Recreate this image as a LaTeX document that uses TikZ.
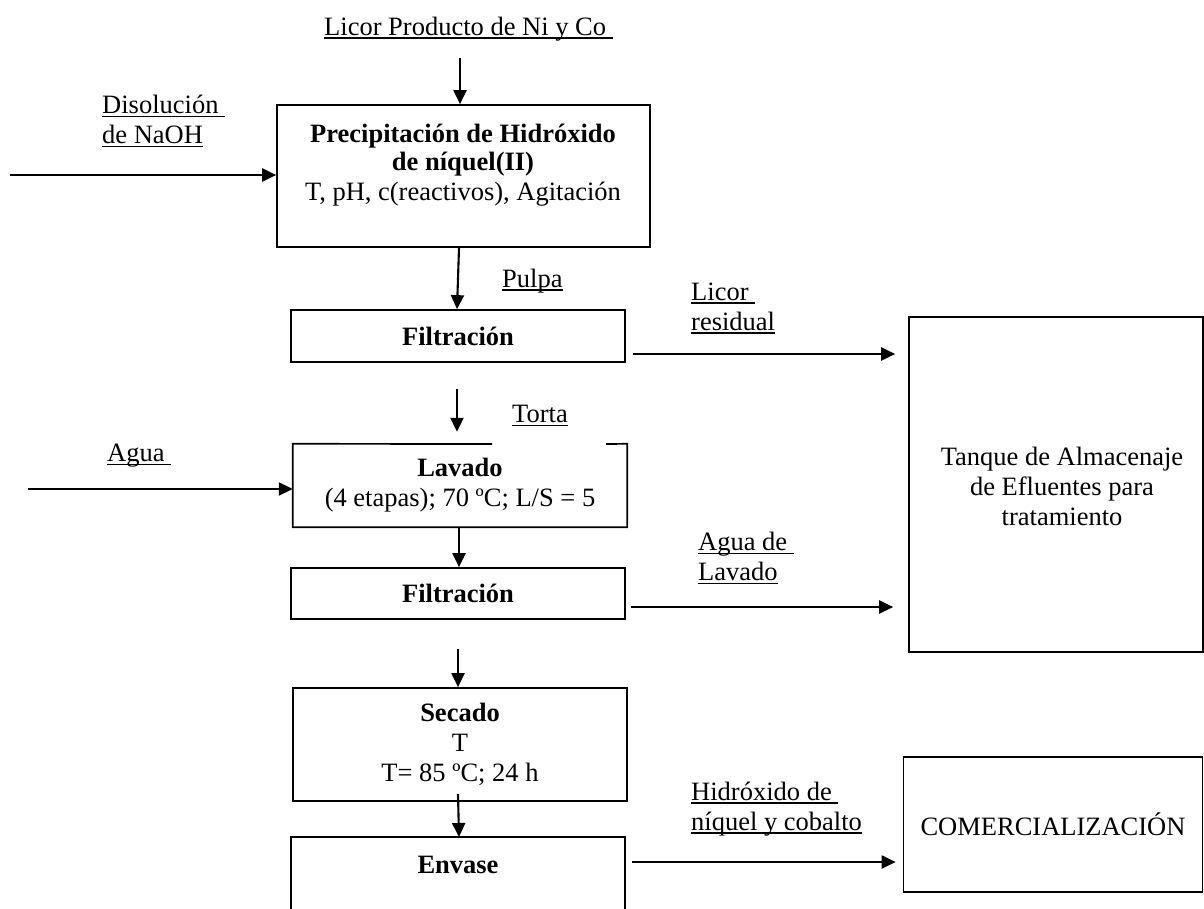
\documentclass[tikz,border=0pt]{standalone}
\usepackage{fontspec}
\setmainfont{Liberation Serif}
\usetikzlibrary{arrows.meta,calc}
\newcommand\myul[1]{{\setbox0\hbox{#1}\rlap{\rule[-3.5pt]{\wd0}{1.4pt}}\box0}}
\newcommand\fs{\fontsize{26.5}{30}\selectfont}
\begin{document}
\begin{tikzpicture}[x=1pt,y=-1pt,
  every node/.style={font=\fs, inner sep=0pt},
  box/.style={draw, line width=1.7pt, minimum width=334pt, align=center},
  lbl/.style={anchor=west, align=left},
  arr/.style={line width=2.1pt, -{Triangle[length=14pt,width=13pt]}}]
\useasboundingbox (0,0) rectangle (1204,909);
% boxes
\node[box, minimum width=373pt, minimum height=142pt] (b1) at (463.5,176) {};
\node[align=center] (b1t) at (463,165) {\textbf{Precipitación de Hidróxido}\\[-2pt]\textbf{de níquel(II)}\\T, pH, c(reactivos), Agitación};
\node[box, minimum height=52pt] (f1) at (458,336) {\textbf{Filtración}};
\node[minimum width=334pt, minimum height=83pt, align=center] (lav) at (460,485.5) {\textbf{Lavado}\\(4 etapas); 70  ºC; L/S = 5};
\draw[line width=1.7pt] (492,444) -- (lav.north west) -- (lav.south west) -- (lav.south east) -- (lav.north east) -- (606,444);
\node[box, minimum height=51pt] (f2) at (458,593.5) {\textbf{Filtración}};
\node[box, minimum height=113pt] (sec) at (460,744.5) {\textbf{Secado}\\T\\T= 85 ºC; 24 h};
\coordinate (envbl) at (291,909);
\coordinate (envtl) at (291,837);
\coordinate (envtr) at (625,837);
\coordinate (envbr) at (625,909);
\draw[line width=1.7pt] (envbl) -- (envtl) -- (envtr) -- (envbr);
\node (env) at (458,865) {\textbf{Envase}};
\node[draw, line width=1.7pt, minimum width=294pt, minimum height=335pt] (tank) at (1056,484.5) {};
\node[align=center] (tankt) at (1062,486) {Tanque de Almacenaje\\de Efluentes para\\tratamiento};
\node[draw, line width=1.7pt, minimum width=299pt, minimum height=135pt] (com) at (1053,824.5) {COMERCIALIZACIÓN};
% labels
\node[lbl] (licor) at (324,29) {\myul{Licor Producto de Ni y Co\ }};
\node[lbl] (naoh) at (102,121) {\myul{Disolución\ }\\\myul{de NaOH}};
\node[lbl] (pulpa) at (502,281) {\myul{Pulpa}};
\node[lbl] (licres) at (691,308) {\myul{Licor\ }\\\myul{residual}};
\node[lbl] (torta) at (512,416) {\myul{Torta}};
\node[lbl] (agua) at (107,456) {\myul{Agua\ }};
\node[lbl] (agual) at (698,558) {\myul{Agua de\ }\\\myul{Lavado}};
\node[lbl] (hidr) at (691,809) {\myul{Hidróxido de\ }\\\myul{níquel y cobalto}};
% connectors
\coordinate (top) at (460,58);
\draw[arr] (top) -- (top |- b1.north);
\coordinate (naohs) at (10,175);
\draw[arr] (naohs) -- (naohs -| b1.west);
\draw[arr] ($(b1.south)+(-4.5,0)$) -- ($(f1.north)+(-1,0)$);
\draw[arr] ($(f1.east)+(7,18)$) -- ($(tank.west |- f1.east)+(-13,18)$);
\draw[arr] ($(f1.south)+(-1,26)$) -- ($(lav.north)+(-3,-12)$);
\coordinate (aguas) at (28,489);
\draw[arr] (aguas) -- (aguas -| lav.west);
\draw[arr] ($(lav.south)+(-1,0)$) -- ($(f2.north)+(1,0)$);
\draw[arr] ($(f2.east)+(5,13.5)$) -- ($(tank.west |- f2.east)+(-15,13.5)$);
\draw[arr] ($(f2.south)+(0,29)$) -- ($(sec.north)+(-2,0)$);
\draw[arr] ($(sec.south)+(-2,-8)$) -- ($(envtl)!0.5!(envtr)+(1,0)$);
\draw[arr] ($(envtr)+(7,25)$) -- ($(com.west |- envtr)+(-7,25)$);
\end{tikzpicture}
\end{document}
